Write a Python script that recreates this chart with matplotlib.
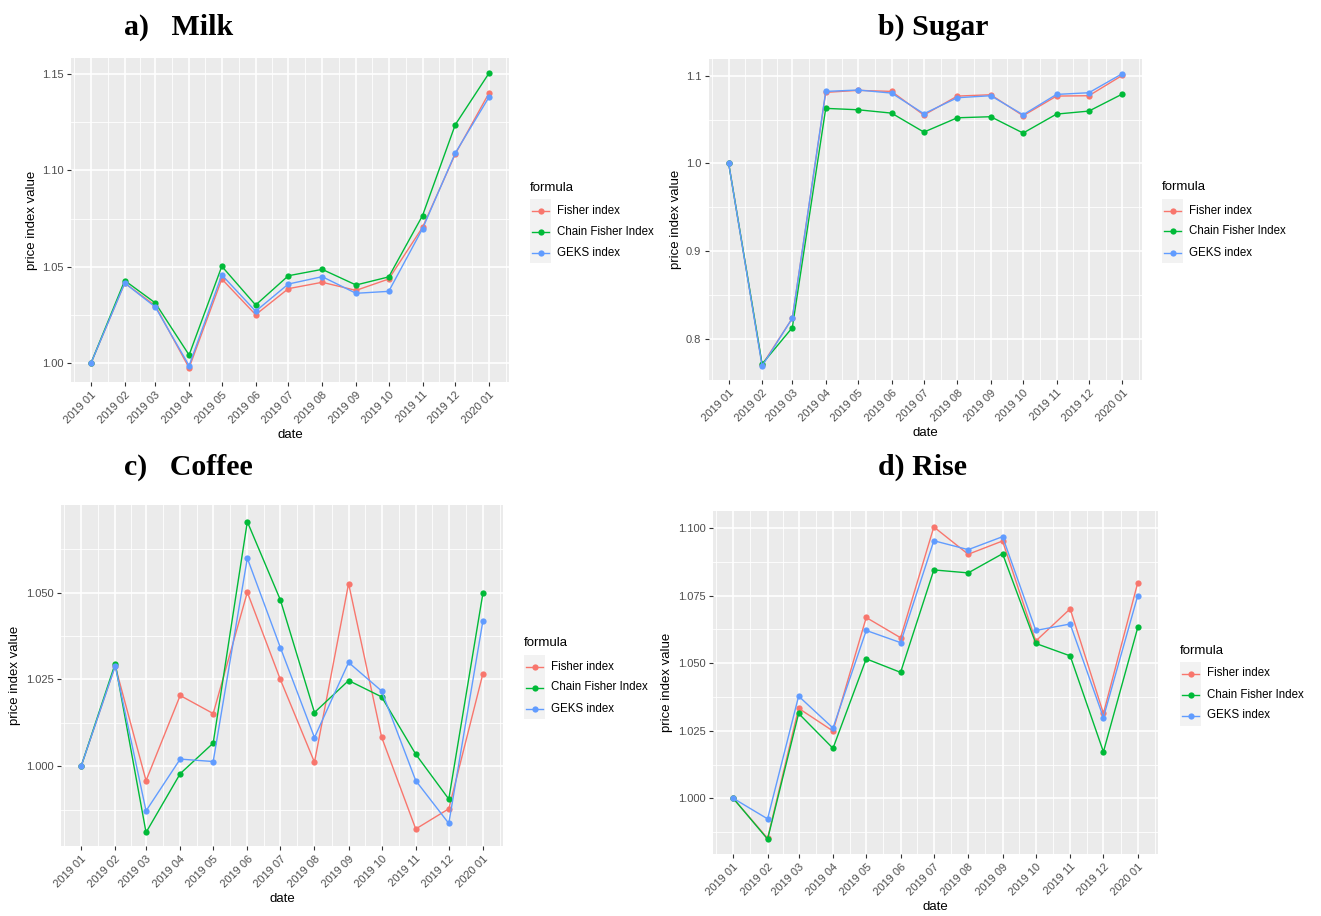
import numpy as np
import pandas as pd
import matplotlib
matplotlib.use("Agg")
import matplotlib.pyplot as plt
import matplotlib.dates as mdates
from matplotlib.lines import Line2D
from matplotlib.patches import Rectangle

plt.rcParams['font.family'] = ['Liberation Sans', 'DejaVu Sans']

dates = pd.date_range('2019-01-01', periods=13, freq='MS')
formulas = ['Fisher index', 'Chain Fisher Index', 'GEKS index']
colors = ['#F8766D', '#00BA38', '#619CFF']

# Milk
milk_fisher = [1.0, 1.0416, 1.0299, 0.9976, 1.0437, 1.0252, 1.0387, 1.0420, 1.0378, 1.0437, 1.0705, 1.1085, 1.1402]
milk_chain = [1.0, 1.0429, 1.0313, 1.0043, 1.0503, 1.0302, 1.0454, 1.0487, 1.0406, 1.0448, 1.0766, 1.1237, 1.1505]
milk_geks = [1.0, 1.0416, 1.0292, 0.9988, 1.0458, 1.0270, 1.0411, 1.0449, 1.0363, 1.0373, 1.0698, 1.1090, 1.1381]

# Sugar
sugar_fisher = [1.0, 0.7706, 0.8238, 1.0809, 1.0832, 1.0820, 1.0551, 1.0767, 1.0782, 1.0543, 1.0767, 1.0771, 1.1003]
sugar_chain = [1.0, 0.7717, 0.8131, 1.0627, 1.0611, 1.0573, 1.0357, 1.0520, 1.0532, 1.0346, 1.0562, 1.0596, 1.0790]
sugar_geks = [1.0, 0.7695, 0.8238, 1.0820, 1.0836, 1.0801, 1.0566, 1.0748, 1.0771, 1.0554, 1.0786, 1.0805, 1.1022]

# Coffee
coffee_fisher = [1.0, 1.0289, 0.9959, 1.0204, 1.0152, 1.0501, 1.0250, 1.0012, 1.0526, 1.0084, 0.9820, 0.9878, 1.0267]
coffee_chain = [1.0, 1.0296, 0.9810, 0.9979, 1.0067, 1.0704, 1.0479, 1.0155, 1.0247, 1.0200, 1.0035, 0.9906, 1.0498]
coffee_geks = [1.0, 1.0289, 0.9872, 1.0021, 1.0014, 1.0599, 1.0342, 1.0083, 1.0299, 1.0217, 0.9959, 0.9836, 1.0419]

# Rise
rise_fisher = [1.0, 0.9852, 1.0333, 1.0249, 1.0669, 1.0594, 1.1004, 1.0903, 1.0952, 1.0582, 1.0701, 1.0314, 1.0798]
rise_chain = [1.0, 0.9849, 1.0314, 1.0185, 1.0516, 1.0466, 1.0845, 1.0834, 1.0905, 1.0573, 1.0527, 1.0172, 1.0632]
rise_geks = [1.0, 0.9924, 1.0378, 1.0260, 1.0621, 1.0576, 1.0953, 1.0920, 1.0968, 1.0621, 1.0645, 1.0299, 1.0750]

W, H = 1321, 916
fig = plt.figure(figsize=(W / 100, H / 100), dpi=100)


def px_axes(left, top, right, bottom):
    return fig.add_axes([left / W, 1 - bottom / H, (right - left) / W, (bottom - top) / H])


def draw_panel(box, series, ylim, yticks, yfmt, title, title_xy, legend_x):
    ax = px_axes(*box)
    x = mdates.date2num(dates)
    ax.set_facecolor('#EBEBEB')
    for s in ax.spines.values():
        s.set_visible(False)

    # grid: minor lines halfway between the major breaks
    step = yticks[1] - yticks[0]
    yminor = np.arange(yticks[0] - step / 2, yticks[-1] + step, step)
    xminor = np.concatenate([[x[0] - 15.5], (x[:-1] + x[1:]) / 2, [x[-1] + 15.5]])
    for v in yminor:
        ax.axhline(v, color='white', lw=0.6, zorder=0)
    for v in xminor:
        ax.axvline(v, color='white', lw=0.6, zorder=0)
    for v in yticks:
        ax.axhline(v, color='white', lw=1.2, zorder=0)
    for v in x:
        ax.axvline(v, color='white', lw=1.2, zorder=0)

    for vals, c in zip(series, colors):
        ax.plot(x, vals, color=c, lw=1.0, marker='o', ms=4.5, mec=c, mew=0, zorder=3)

    span = x[-1] - x[0]
    ax.set_xlim(x[0] - 0.05 * span, x[-1] + 0.05 * span)
    ax.set_ylim(*ylim)
    ax.set_xticks(x)
    ax.set_xticklabels([d.strftime('%Y %m') for d in dates], rotation=45,
                       ha='right', rotation_mode='anchor')
    ax.set_yticks(yticks)
    ax.set_yticklabels([yfmt.format(v) for v in yticks])
    ax.tick_params(length=3, width=0.8, color='#333333', labelcolor='#4D4D4D',
                   labelsize=8, pad=2.5)
    ax.set_xlabel('date', fontsize=9.5, labelpad=3)
    ax.set_ylabel('price index value', fontsize=9.5, labelpad=3)

    fig.text(title_xy[0] / W, 1 - title_xy[1] / H, title, family='Liberation Serif',
             fontweight='bold', fontsize=21.5, va='center', ha='left')

    # legend to the right of the panel
    cy = (box[1] + box[3]) / 2
    fig.text(legend_x / W, 1 - (cy - 32) / H, 'formula', fontsize=9.5, va='center', ha='left')
    fig.patches.append(Rectangle((legend_x / W, 1 - (cy + 43) / H), 21 / W, 64 / H,
                                 transform=fig.transFigure, facecolor='#F2F2F2',
                                 edgecolor='none', figure=fig))
    for i, (lab, c) in enumerate(zip(formulas, colors)):
        ly = 1 - (cy - 9 + 21 * i) / H
        fig.lines.append(Line2D([(legend_x + 2) / W, (legend_x + 19) / W], [ly, ly],
                                transform=fig.transFigure, color=c, lw=1.0, figure=fig))
        fig.lines.append(Line2D([(legend_x + 10.5) / W], [ly], transform=fig.transFigure,
                                color=c, marker='o', ms=4.5, mew=0, figure=fig))
        fig.text((legend_x + 27) / W, ly, lab, fontsize=8.3, va='center', ha='left')
    return ax


draw_panel((71, 58, 509, 382), [milk_fisher, milk_chain, milk_geks],
           (0.9903, 1.1583), [1.00, 1.05, 1.10, 1.15], '{:.2f}',
           'a)   Milk', (124, 27), 530)
draw_panel((709, 59, 1142, 380), [sugar_fisher, sugar_chain, sugar_geks],
           (0.7535, 1.1189), [0.8, 0.9, 1.0, 1.1], '{:.1f}',
           'b) Sugar', (878, 27), 1162)
draw_panel((61, 505, 503, 846), [coffee_fisher, coffee_chain, coffee_geks],
           (0.9771, 1.0752), [1.000, 1.025, 1.050], '{:.3f}',
           'c)   Coffee', (124, 467), 524)
draw_panel((713, 511, 1158, 854), [rise_fisher, rise_chain, rise_geks],
           (0.9794, 1.1063), [1.000, 1.025, 1.050, 1.075, 1.100], '{:.3f}',
           'd) Rise', (878, 467), 1180)

fig.savefig('out.png', dpi=100, facecolor='white')
